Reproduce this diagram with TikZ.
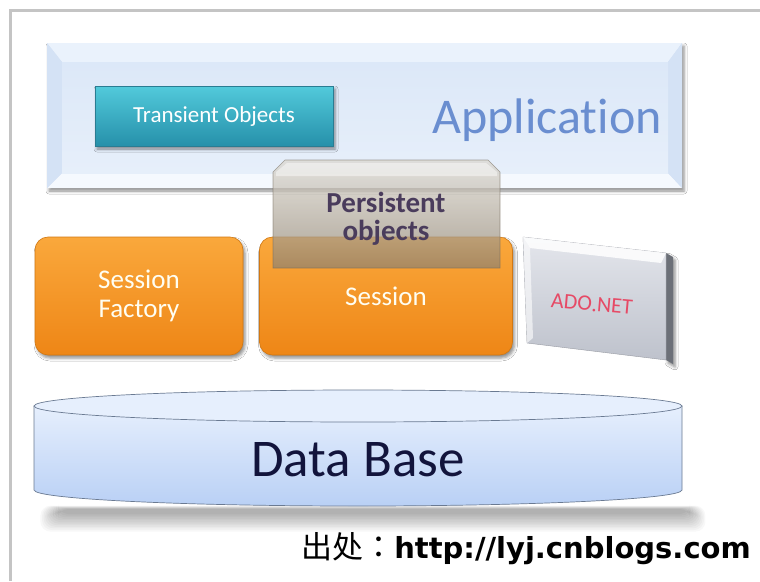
\documentclass[tikz,border=0pt]{standalone}
\usepackage{fontspec}
\setmainfont{Carlito}[Ligatures=NoCommon]
\newfontfamily\cjk{Noto Sans CJK SC}
\newfontfamily\cjkpunct{Noto Sans CJK TC}
\newfontfamily\urlfont{DejaVu Sans}
\usetikzlibrary{shadows.blur}

\definecolor{frameGray}{HTML}{C4C4C4}
\definecolor{bandEdge}{HTML}{D4E2F5}
\definecolor{bandTop}{HTML}{EAF2FC}
\definecolor{bandBot}{HTML}{F5F9FE}
\definecolor{bandFace}{HTML}{DCE8F8}
\definecolor{appBlue}{HTML}{6A8ED0}
\definecolor{tealTop}{HTML}{52CADB}
\definecolor{tealBot}{HTML}{2690AA}
\definecolor{tealLine}{HTML}{2A7C92}
\definecolor{orTop}{HTML}{FAA83C}
\definecolor{orBot}{HTML}{EE8616}
\definecolor{orLine}{HTML}{D27812}
\definecolor{persTop}{HTML}{DCD8D0}
\definecolor{persBot}{HTML}{8E8270}
\definecolor{persText}{HTML}{4A3C5C}
\definecolor{adoTop}{HTML}{E4E6EC}
\definecolor{adoBot}{HTML}{BEC2CC}
\definecolor{adoSide}{HTML}{6C7078}
\definecolor{adoRed}{HTML}{E64A66}
\definecolor{dbTop}{HTML}{E6EFFD}
\definecolor{dbBot}{HTML}{B9D0F5}
\definecolor{dbLine}{HTML}{6A7A92}
\definecolor{dbText}{HTML}{12143C}

\tikzset{
  softshadow/.style={blur shadow={shadow xshift=2pt, shadow yshift=-3pt,
      shadow blur radius=3pt, shadow opacity=45}},
  transbox/.style={rectangle, minimum width=238pt, minimum height=60pt,
      top color=tealTop, bottom color=tealBot, draw=tealLine, line width=0.6pt,
      text=white, font=\fontsize{23}{26}\selectfont, softshadow},
  orangebox/.style={rectangle, rounded corners=13pt, minimum height=118pt,
      top color=orTop, bottom color=orBot, draw=orLine, line width=0.6pt,
      text=white!95!yellow, align=center, font=\fontsize{27}{33}\selectfont, softshadow},
  plain/.style={inner sep=0pt}
}

\begin{document}
\begin{tikzpicture}[x=1pt,y=-1pt]
\useasboundingbox (0,0) rectangle (760,581);
\fill[white] (0,0) rectangle (760,581);

% surrounding frame
\draw[frameGray, line width=3pt] (10,581) -- (10,10) -- (760,10);

% application band with bevelled edges
\fill[bandEdge, softshadow] (47,43) rectangle (682,188);
\fill[bandTop] (47,43) -- (682,43) -- (668,62) -- (62,62) -- cycle;
\fill[bandBot] (47,188) -- (682,188) -- (668,173) -- (62,173) -- cycle;
\fill[bandEdge] (47,43) -- (62,62) -- (62,173) -- (47,188) -- cycle;
\fill[bandEdge] (682,43) -- (668,62) -- (668,173) -- (682,188) -- cycle;
\shade[top color=bandFace, bottom color=bandFace!70!white] (62,62) rectangle (668,173);
\node[plain, text=appBlue, font=\fontsize{50}{56}\selectfont] (app) at (547,120) {Application};

% transient objects
\node[transbox] (trans) at (214,116) {Transient Objects};

% session factory and session
\node[orangebox, minimum width=208pt] (factory) at (139,296) {Session\\[-4pt]Factory};
\node[orangebox, minimum width=253pt] (session) at (386,296) {Session};

% persistent objects, translucent over the session
\shade[top color=persTop, bottom color=persBot, fill opacity=0.72,
       draw=persBot!80!black, draw opacity=0.6, line width=0.6pt]
  (273,172) -- (285,160) -- (488,160) -- (500,172) -- (500,268) -- (273,268) -- cycle;
\fill[white, opacity=0.45] (276,172) -- (287,163) -- (486,163) -- (497,172) -- (497,176) -- (276,176) -- cycle;
\node[plain, text=persText, align=center, font=\bfseries\fontsize{29}{28}\selectfont] (pers) at (386,219) {Persistent\\objects};

% ADO.NET block
\fill[adoSide, softshadow] (666,253) -- (673,257) -- (673,364) -- (666,360) -- cycle;
\shade[top color=adoTop, bottom color=adoBot, draw=adoBot!80!black, line width=0.4pt]
  (523,237) -- (666,253) -- (666,360) -- (527,343) -- cycle;
\fill[white, opacity=0.85] (523,237) -- (666,253) -- (661,263) -- (530,248) -- cycle;
\fill[white, opacity=0.6] (523,237) -- (530,248) -- (533,338) -- (527,343) -- cycle;
\node[plain, text=adoRed, rotate=-5, font=\fontsize{22}{24}\selectfont] (ado) at (592,304) {ADO.NET};

% soft shadow beneath the database, built from faint stacked layers
\foreach \i in {0,...,11}
  \fill[black, opacity=0.028, rounded corners=10pt]
    (58-1.6*\i, 509-0.3*\i) rectangle (690+1.4*\i, 514+1.6*\i);

% database cylinder
\shade[top color=dbTop, bottom color=dbBot, draw=dbLine, line width=0.7pt]
  (34,406) -- (34,490) arc[start angle=180, end angle=0, x radius=324, y radius=16]
  -- (682,406) -- cycle;
\fill[dbTop, draw=dbLine, line width=0.7pt] (358,406) ellipse[x radius=324, y radius=16];
\node[plain, text=dbText, font=\fontsize{53}{58}\selectfont] (db) at (358,460) {Data Base};

% source line
\node[plain, anchor=east] (src) at (751,549)
  {{\cjk\fontsize{31}{34}\selectfont 出处}{\cjkpunct\fontsize{31}{34}\selectfont ：}{\urlfont\bfseries\fontsize{29}{34}\selectfont http://lyj.cnblogs.com}};
\end{tikzpicture}
\end{document}
